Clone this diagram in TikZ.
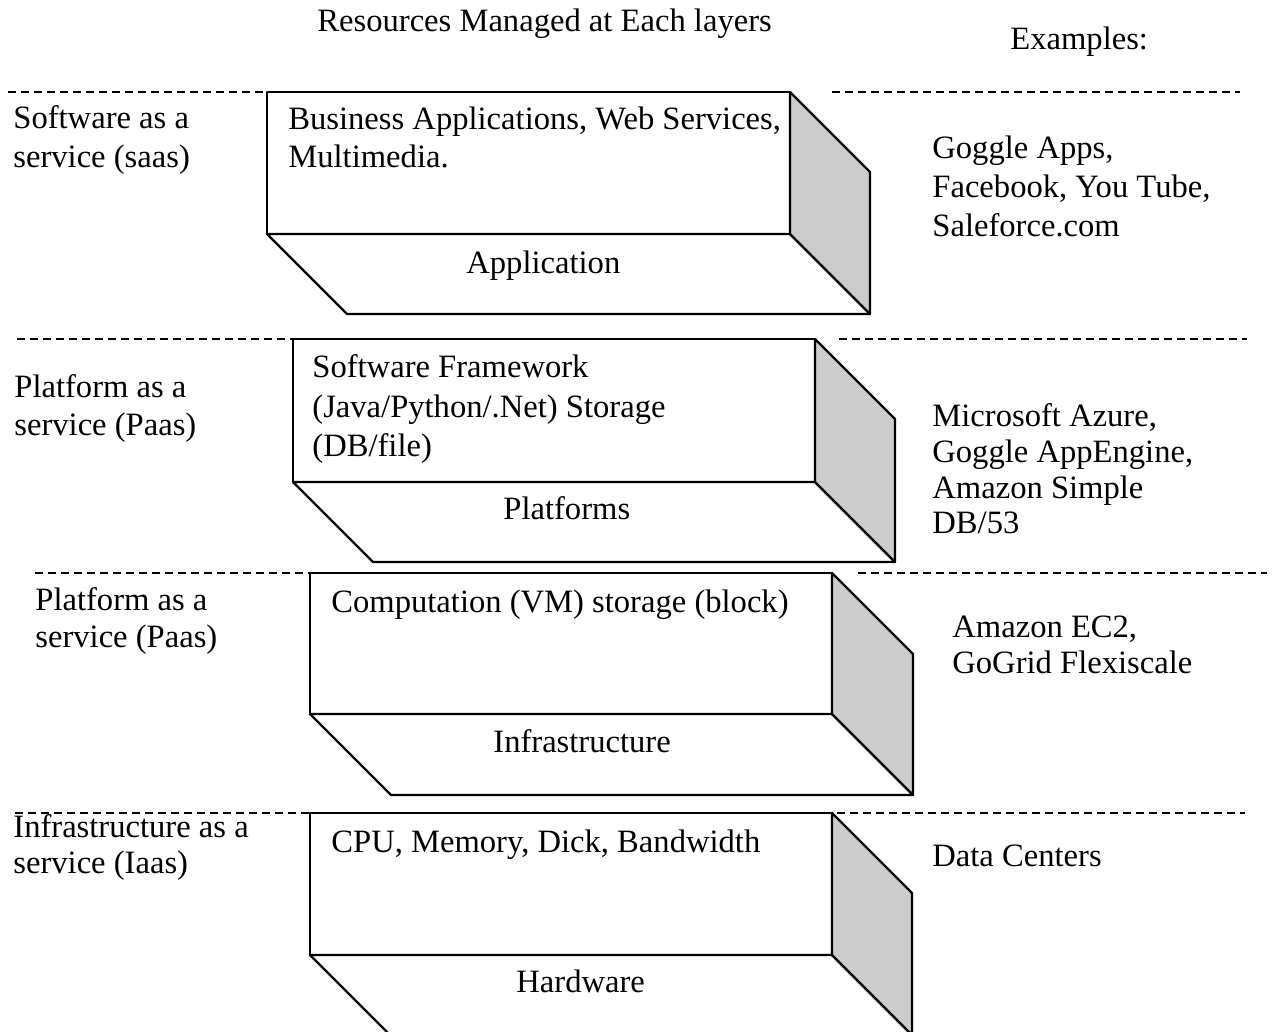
\documentclass[tikz,border=0pt]{standalone}
\usepackage{fontspec}
\setmainfont{Liberation Serif}
\definecolor{sidegray}{RGB}{204,204,204}

% one layer slab: front face, bottom face and shaded right side
% #1,#2 = top-left corner, #3 = width, #4 = height, #5 = depth
\newcommand\layerblock[5]{%
  \draw[face] (#1,#2) rectangle ++(#3,#4);
  \draw[face] (#1,#2+#4) -- ++(#5,#5) -- ++(#3,0) -- ++(-#5,-#5) -- cycle;
  \draw[side] (#1+#3,#2) -- ++(#5,#5) -- ++(0,#4) -- ++(-#5,-#5) -- cycle;
}

\begin{document}
\begin{tikzpicture}[x=0.5pt,y=-0.5pt,
  txt/.style={anchor=base west,inner sep=0pt,font=\fontsize{16.3}{19}\selectfont},
  sep/.style={draw=black,line width=0.75pt,dash pattern=on 4pt off 2.5pt},
  face/.style={draw=black,line width=1.1pt,line join=round,fill=white},
  side/.style={face,fill=sidegray}]
\clip (0,0) rectangle (1274,1032);

% headings
\node[txt] (title) at (317,32) {Resources Managed at Each layers};
\node[txt] (examples) at (1010,50) {Examples:};

% slabs
\layerblock{267}{92}{523}{142}{80}
\layerblock{293}{339}{522}{143}{80}
\layerblock{310}{573}{522}{141}{81}
\layerblock{310}{813}{522}{142}{80}

% layer separators (the left ones run on over the slab tops)
\draw[sep] (8,92) -- (413,92);    \draw[sep] (832,92) -- (1240,92);
\draw[sep] (17,339) -- (422,339); \draw[sep] (839,339) -- (1247,339);
\draw[sep] (35,573) -- (440,573); \draw[sep] (858,573) -- (1267,573);
\draw[sep] (15,813) -- (421,813); \draw[sep] (837,813) -- (1245,813);

% SaaS layer
\node[txt] (saasA) at (13,129) {Software as a};
\node[txt] (saasB) at (13,168) {service (saas)};
\node[txt] (appA) at (288,130) {Business Applications, Web Services,};
\node[txt] (appB) at (288,168) {Multimedia.};
\node[txt] (app) at (466,273) {Application};
\node[txt] (exA1) at (932,159) {Goggle Apps,};
\node[txt] (exA2) at (932,198) {Facebook, You Tube,};
\node[txt] (exA3) at (932,237) {Saleforce.com};

% PaaS layer
\node[txt] (paasA) at (14,397) {Platform as a};
\node[txt] (paasB) at (14,435) {service (Paas)};
\node[txt] (platA) at (312,377) {Software Framework};
\node[txt] (platB) at (312,417) {(Java/Python/.Net) Storage};
\node[txt] (platC) at (312,456) {(DB/file)};
\node[txt] (plat) at (503,519) {Platforms};
\node[txt] (exB1) at (932,426) {Microsoft Azure,};
\node[txt] (exB2) at (932,462) {Goggle AppEngine,};
\node[txt] (exB3) at (932,498) {Amazon Simple};
\node[txt] (exB4) at (932,533) {DB/53};

% infrastructure layer
\node[txt] (paasC) at (35,610) {Platform as a};
\node[txt] (paasD) at (35,647) {service (Paas)};
\node[txt] (infA) at (331,612) {Computation (VM) storage (block)};
\node[txt] (inf) at (493,752) {Infrastructure};
\node[txt] (exC1) at (952,637) {Amazon EC2,};
\node[txt] (exC2) at (952,673) {GoGrid Flexiscale};

% hardware layer
\node[txt] (iaasA) at (13,837) {Infrastructure as a};
\node[txt] (iaasB) at (13,873) {service (Iaas)};
\node[txt] (hwA) at (331,852) {CPU, Memory, Dick, Bandwidth};
\node[txt] (hw) at (516,992) {Hardware};
\node[txt] (exD1) at (932,866) {Data Centers};
\end{tikzpicture}
\end{document}
